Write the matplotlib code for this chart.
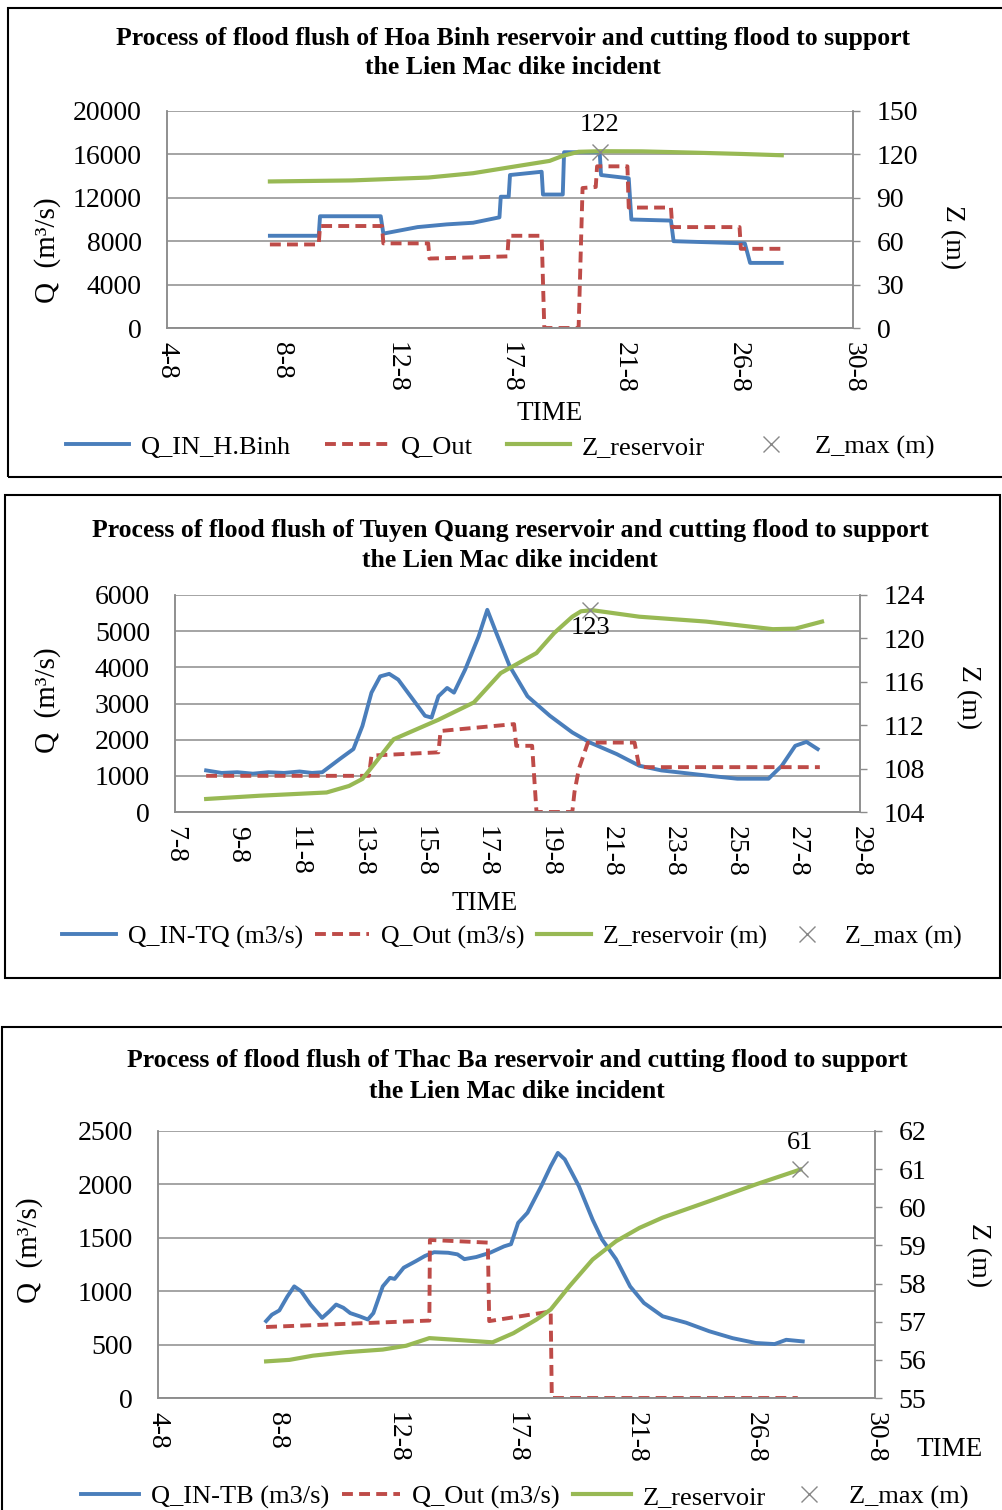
import matplotlib.pyplot as plt
from matplotlib.patches import Rectangle

plt.rcParams['font.family'] = ['Liberation Serif', 'DejaVu Serif']

W, H = 1003, 1510
BLUE = '#4a7ebb'
RED = '#be4b48'
GREEN = '#98b954'
GRID = '#8c8c8c'

# ---- Hoa Binh (days of August) ----
hb_in_day = [7.9, 9.75, 9.8, 12.1, 12.2, 13.5, 14.6, 15.6, 16.6, 16.65, 16.95, 17.0,
             18.2, 18.25, 19.0, 19.05, 20.4, 20.45, 21.5, 21.6, 23.1, 23.2, 25.9, 26.1, 27.3]
hb_in_q = [8500, 8500, 10300, 10300, 8700, 9300, 9550, 9700, 10200, 12100, 12100, 14100,
           14400, 12300, 12300, 16200, 16200, 14100, 13800, 10000, 9900, 8000, 7800, 6000, 6000]
hb_out_day = [7.9, 9.75, 9.8, 12.15, 12.2, 13.9, 13.95, 16.9, 16.95, 18.2, 18.3, 19.6,
              19.75, 20.25, 20.3, 21.45, 21.5, 23.1, 23.15, 25.7, 25.75, 27.3]
hb_out_q = [7700, 7700, 9400, 9400, 7800, 7800, 6400, 6600, 8500, 8500, 0, 0,
            12900, 13000, 14900, 14900, 11100, 11100, 9300, 9300, 7300, 7300]
hb_z_day = [7.9, 11.0, 13.9, 15.6, 17.3, 18.5, 19.0, 19.6, 20.4, 22.0, 24.0, 25.8, 27.3]
hb_z = [101.3, 102.0, 104.0, 107.0, 112.0, 115.5, 119.0, 121.8, 122.2, 122.1, 121.2, 120.3, 119.4]
hb_zmax_day, hb_zmax = 20.4, 122

# ---- Tuyen Quang ----
tq_in_day = [8.0, 8.5, 9.0, 9.5, 10.0, 10.5, 11.0, 11.4, 11.73, 12.3, 12.73, 13.02, 13.31,
             13.59, 13.88, 14.17, 14.6, 15.03, 15.24, 15.46, 15.74, 15.96, 16.32, 16.75,
             17.03, 17.32, 17.75, 18.32, 19.04, 19.76, 20.33, 21.19, 21.91, 22.62, 24.06,
             25.06, 26.06, 26.49, 26.92, 27.28, 27.64]
tq_in_q = [1150, 1080, 1100, 1060, 1100, 1080, 1120, 1080, 1100, 1470, 1740, 2380, 3300,
           3750, 3820, 3660, 3160, 2660, 2610, 3200, 3430, 3300, 3940, 4850,
           5590, 4950, 4030, 3200, 2660, 2200, 1920, 1600, 1280, 1150, 1010,
           920, 920, 1280, 1830, 1940, 1740]
tq_out_day = [8.0, 13.23, 13.31, 15.46, 15.53, 17.89, 17.96, 18.47, 18.61, 19.76, 19.83,
              19.97, 20.26, 21.76, 21.91, 27.71]
tq_out_q = [1000, 1000, 1560, 1650, 2240, 2430, 1830, 1830, 0, 0, 550,
            1190, 1920, 1920, 1240, 1240]
tq_z_day = [8.0, 9.72, 11.87, 12.59, 13.02, 13.45, 14.02, 14.74, 15.46, 16.6, 17.46, 18.61,
            19.18, 19.76, 20.04, 20.4, 21.91, 24.06, 26.2, 26.92, 27.78]
tq_z = [105.2, 105.5, 105.8, 106.4, 107.05, 108.6, 110.7, 111.6, 112.5, 114.1, 116.8, 118.65,
        120.5, 122.0, 122.5, 122.6, 122.0, 121.55, 120.85, 120.9, 121.55]
tq_zmax_day, tq_zmax = 20.33, 122.6

# ---- Thac Ba ----
tb_in_day = [7.92, 8.13, 8.40, 8.69, 8.94, 9.19, 9.53, 9.95, 10.21, 10.46, 10.72, 10.97,
             11.31, 11.61, 11.81, 12.15, 12.41, 12.58, 12.91, 13.34, 13.68, 14.01, 14.52,
             14.86, 15.11, 15.54, 16.04, 16.55, 16.80, 17.06, 17.40, 17.90, 18.24, 18.50,
             18.75, 19.26, 19.76, 20.10, 20.61, 21.12, 21.62, 22.30, 23.15, 23.99, 24.84,
             25.68, 26.36, 26.78, 27.38]
tb_in_q = [720, 780, 820, 950, 1045, 1000, 875, 750, 810, 875, 845, 795,
           765, 735, 795, 1045, 1125, 1115, 1220, 1280, 1330, 1365, 1360,
           1345, 1300, 1320, 1360, 1420, 1440, 1640, 1735, 1985, 2170, 2295,
           2235, 1985, 1670, 1485, 1300, 1045, 890, 765, 705, 625, 560,
           515, 505, 545, 530]
tb_out_day = [7.92, 13.84, 13.86, 15.96, 16.01, 18.24, 18.28, 27.2]
tb_out_q = [665, 725, 1480, 1455, 720, 810, 0, 0]
tb_z_day = [7.92, 8.77, 9.62, 10.8, 12.15, 13.0, 13.84, 14.69, 16.13, 16.89, 17.73, 18.24,
            18.92, 19.76, 20.61, 21.46, 22.3, 23.99, 25.68, 27.29]
tb_z = [55.96, 56.0, 56.11, 56.2, 56.27, 56.37, 56.57, 56.53, 56.46, 56.7, 57.06, 57.32,
        57.93, 58.63, 59.11, 59.46, 59.73, 60.16, 60.6, 60.99]
tb_zmax_day, tb_zmax = 27.29, 61

hb_xticks = ['4-8', '8-8', '12-8', '17-8', '21-8', '26-8', '30-8']
tq_xticks = ['7-8', '9-8', '11-8', '13-8', '15-8', '17-8', '19-8', '21-8', '23-8',
             '25-8', '27-8', '29-8']
tb_xticks = ['4-8', '8-8', '12-8', '17-8', '21-8', '26-8', '30-8']

FS = 20  # tick / label font size


def fx(px):
    return px / W


def fy(py):
    return 1 - py / H


def draw_panel(fig, box, frame, title, xlim, xtick_labels, qmax, qstep, zlim, zstep,
               q_in, q_out, z_res, zmax, zmax_label, label_dy,
               names, legend_xy, time_xy, qlab_xy, zlab_xy, title_x, title_y,
               leg_fs=19, leg_hl=2.4, leg_cs=0.9):
    left, top, right, bottom = box
    ax = fig.add_axes([fx(left), fy(bottom), fx(right - left), (bottom - top) / H])
    ax2 = ax.twinx()

    l1, = ax.plot(q_in[0], q_in[1], color=BLUE, lw=2.8)
    l2, = ax.plot(q_out[0], q_out[1], color=RED, lw=2.8, linestyle=(0, (2.8, 1.6)))
    l3, = ax2.plot(z_res[0], z_res[1], color=GREEN, lw=3.0)
    l4, = ax2.plot([zmax[0]], [zmax[1]], 'x', color='#888888', ms=12, mew=1)
    ax2.annotate(zmax_label, (zmax[0], zmax[1]), xytext=(0, label_dy),
                 textcoords='offset points', ha='center', va='center', fontsize=19)

    n = len(xtick_labels)
    ticks = [xlim[0] + i * (xlim[1] - xlim[0]) / (n - 1) for i in range(n)]
    ax.set_xlim(xlim)
    ax.set_xticks(ticks)
    ax.set_xticklabels(xtick_labels, rotation=-90, fontsize=FS)
    ax.tick_params(axis='x', length=0, pad=10)

    ax.set_ylim(0, qmax)
    ax.set_yticks(range(0, qmax + 1, qstep))
    ax.tick_params(axis='y', length=0, pad=18, labelsize=FS)
    ax.grid(axis='y', color=GRID, lw=1.1)
    ax.set_axisbelow(True)

    ax2.set_ylim(zlim)
    zt = []
    v = zlim[0]
    while v <= zlim[1] + 1e-9:
        zt.append(v)
        v += zstep
    ax2.set_yticks(zt)
    ax2.set_yticklabels([f'{t:g}' for t in zt])
    ax2.tick_params(axis='y', length=5, width=1, color=GRID, pad=12, labelsize=FS)

    for a in (ax, ax2):
        a.spines['top'].set_visible(False)
        for s in ('left', 'right', 'bottom'):
            a.spines[s].set_color(GRID)
            a.spines[s].set_linewidth(1.1)

    for line, yy in zip(title, title_y):
        fig.text(fx(title_x), fy(yy), line, ha='center', va='center',
                 fontsize=18.5, fontweight='bold')
    fig.text(fx(time_xy[0]), fy(time_xy[1]), 'TIME', ha='center', va='center', fontsize=19.5)
    fig.text(fx(qlab_xy[0]), fy(qlab_xy[1]), 'Q  (m³/s)', ha='center', va='center',
             rotation=90, fontsize=21)
    fig.text(fx(zlab_xy[0]), fy(zlab_xy[1]), 'Z (m)', ha='center', va='center',
             rotation=-90, fontsize=20)

    fig.legend([l1, l2, l3, l4], names, loc='center',
               bbox_to_anchor=(fx(legend_xy[0]), fy(legend_xy[1])), ncol=4,
               frameon=False, fontsize=leg_fs, handlelength=leg_hl, handletextpad=0.45,
               columnspacing=leg_cs)

    fx0, fy0, fx1, fy1 = frame
    fig.add_artist(Rectangle((fx(fx0), fy(fy1)), fx(fx1 - fx0), (fy1 - fy0) / H,
                             transform=fig.transFigure, fill=False, ec='black', lw=1.5))


fig = plt.figure(figsize=(W / 100, H / 100), dpi=100)

draw_panel(fig, (167, 111, 853, 328), (8, 8, 1010, 477),
           ['Process of flood flush of Hoa Binh reservoir and cutting flood to support',
            'the Lien Mac dike incident'],
           (4, 30), hb_xticks, 20000, 4000, (0, 150), 30,
           (hb_in_day, hb_in_q), (hb_out_day, hb_out_q), (hb_z_day, hb_z),
           (hb_zmax_day, hb_zmax), '122', 19,
           ['Q_IN_H.Binh', 'Q_Out', 'Z_reservoir', 'Z_max (m)'],
           (500, 447), (550, 413), (48, 250), (952, 237), 513, (38, 68),
           leg_cs=1.3)

draw_panel(fig, (175, 595, 860, 812), (5, 495, 1000, 978),
           ['Process of flood flush of Tuyen Quang reservoir and cutting flood to support',
            'the Lien Mac dike incident'],
           (7, 29), tq_xticks, 6000, 1000, (104, 124), 4,
           (tq_in_day, tq_in_q), (tq_out_day, tq_out_q), (tq_z_day, tq_z),
           (tq_zmax_day, tq_zmax), '123', -13,
           ['Q_IN-TQ (m3/s)', 'Q_Out (m3/s)', 'Z_reservoir (m)', 'Z_max (m)'],
           (512, 937), (485, 903), (48, 700), (968, 697), 510, (530, 561),
           leg_fs=18.5, leg_hl=2.1, leg_cs=0.5)

draw_panel(fig, (158, 1131, 875, 1398), (2, 1027, 1010, 1520),
           ['Process of flood flush of Thac Ba reservoir and cutting flood to support',
            'the Lien Mac dike incident'],
           (4, 30), tb_xticks, 2500, 500, (55, 62), 1,
           (tb_in_day, tb_in_q), (tb_out_day, tb_out_q), (tb_z_day, tb_z),
           (tb_zmax_day, tb_zmax), '61', 19,
           ['Q_IN-TB (m3/s)', 'Q_Out (m3/s)', 'Z_reservoir', 'Z_max (m)'],
           (525, 1497), (950, 1450), (30, 1250), (978, 1255), 517, (1060, 1091),
           leg_hl=2.2, leg_cs=0.5)

fig.savefig('out.png', dpi=100)
